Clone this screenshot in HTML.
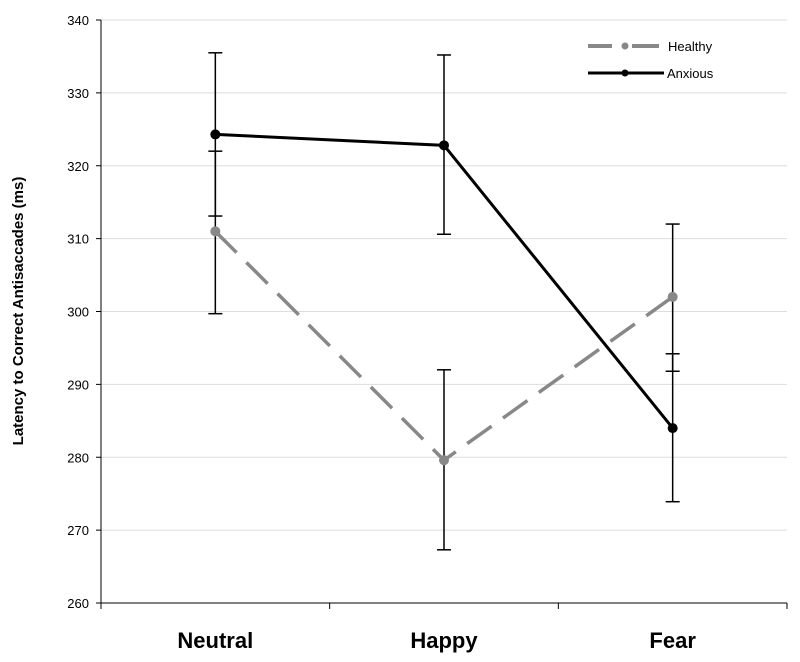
<!DOCTYPE html>
<html><head><meta charset="utf-8"><style>
body{margin:0;background:#fff;}
svg{display:block;font-family:"Liberation Sans",Arial,sans-serif;}
</style></head><body>
<svg id="chart" width="800" height="662" viewBox="0 0 800 662" xmlns="http://www.w3.org/2000/svg">
<g id="grid"></g>
<g id="yaxis"></g>
<g id="xaxis"></g>
<g id="series"></g>
<text transform="translate(23,311) rotate(-90)" text-anchor="middle" font-size="15" font-weight="bold">Latency to Correct Antisaccades (ms)</text>
<g>
 <g>
  <line x1="588" y1="46" x2="612" y2="46" stroke="#888" stroke-width="4"/>
  <line x1="632" y1="46" x2="659" y2="46" stroke="#888" stroke-width="4"/>
  <circle cx="625" cy="46" r="3.5" fill="#888"/>
  <text x="668" y="51" font-size="13">Healthy</text>
 </g>
 <g>
  <line x1="588" y1="73" x2="664" y2="73" stroke="#000" stroke-width="3"/>
  <circle cx="625" cy="73" r="3.5" fill="#000"/>
  <text x="667" y="78" font-size="13">Anxious</text>
 </g>
</g>
</svg>
<script>
const categories = ["Neutral","Happy","Fear"];
const yTicks = [260,270,280,290,300,310,320,330,340];
const healthy = [311, 279.6, 302];
const healthyLow = [299.7, 267.3, 291.8];
const healthyHigh = [322, 292, 312];
const anxious = [324.3, 322.8, 284];
const anxiousLow = [313.1, 310.6, 273.9];
const anxiousHigh = [335.5, 335.2, 294.2];

const NS="http://www.w3.org/2000/svg";
const x0=101,x1=787,yTop=20,yBot=603,yMin=260,yMax=340;
const band=(x1-x0)/categories.length;
const xS=i=>x0+band*(i+0.5);
const yS=v=>yBot-(v-yMin)/(yMax-yMin)*(yBot-yTop);
function mk(tag,attrs,parent){const e=document.createElementNS(NS,tag);for(const k in attrs)e.setAttribute(k,attrs[k]);parent.appendChild(e);return e;}
const grid=document.getElementById('grid'),ya=document.getElementById('yaxis'),xa=document.getElementById('xaxis'),ser=document.getElementById('series');
yTicks.forEach(t=>{
 const y=yS(t);
 if(t>yMin){const g=mk('line',{x1:x0,x2:x1,y1:y,y2:y,stroke:'#ddd','stroke-width':1},grid);
 
 }
 mk('line',{x1:x0-5,x2:x0,y1:y,y2:y,stroke:'#000','stroke-width':1},ya);
 const tx=mk('text',{x:x0-12,y:y+5,'text-anchor':'end','font-size':13},ya);
 tx.textContent=t;
 
 
});
mk('line',{x1:x0,x2:x0,y1:yTop,y2:yBot,stroke:'#000','stroke-width':1},ya);
mk('line',{x1:x0,x2:x1,y1:yBot,y2:yBot,stroke:'#000','stroke-width':1},xa);
for(let i=0;i<=categories.length;i++){const x=x0+band*i;mk('line',{x1:x,x2:x,y1:yBot,y2:yBot+6,stroke:'#000','stroke-width':1},xa);}
categories.forEach((c,i)=>{
 const t=mk('text',{x:xS(i),y:648,'text-anchor':'middle','font-size':22,'font-weight':'bold'},xa);
 t.textContent=c;
 
 
});
function series(vals,lo,hi,color,w,dash,name){
 const g=mk('g',{},ser);
 
 
 vals.forEach((v,i)=>{
  const x=xS(i);
  const eb=mk('g',{stroke:'#000','stroke-width':1.5},g);
  
  
  mk('line',{x1:x,x2:x,y1:yS(lo[i]),y2:yS(hi[i])},eb);
  mk('line',{x1:x-7,x2:x+7,y1:yS(lo[i]),y2:yS(lo[i])},eb);
  mk('line',{x1:x-7,x2:x+7,y1:yS(hi[i]),y2:yS(hi[i])},eb);
 });
 const pts=vals.map((v,i)=>xS(i)+','+yS(v)).join(' ');
 const l=mk('polyline',{points:pts,fill:'none',stroke:color,'stroke-width':w},g);
 if(dash)l.setAttribute('stroke-dasharray',dash);
 
 
 vals.forEach((v,i)=>{
  const c=mk('circle',{cx:xS(i),cy:yS(v),r:5,fill:color},g);
  
  
 });
}
series(healthy,healthyLow,healthyHigh,'#888',3.5,'30,14','series-healthy');
series(anxious,anxiousLow,anxiousHigh,'#000',3,null,'series-anxious');
</script>
</body></html>
